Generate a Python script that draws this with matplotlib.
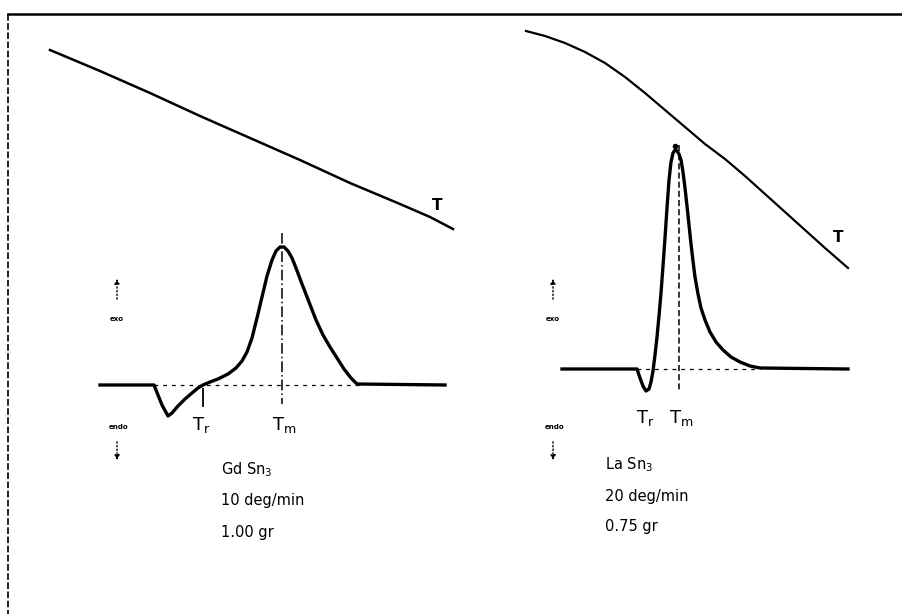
import matplotlib
matplotlib.use("Agg")
import matplotlib.pyplot as plt

# drawing units: the figure is laid out on a 902 x 614 grid (y grows downward)

# temperature trace, left run (GdSn3)
t_left_x = [50, 100, 150, 200, 250, 300, 350, 400, 430, 453]
t_left_y = [50, 71, 93, 116, 138, 160, 183, 204, 217, 229]

# temperature trace, right run (LaSn3)
t_right_x = [526, 545, 565, 585, 605, 625, 645, 665, 685, 705, 725, 745,
             765, 785, 805, 825, 848]
t_right_y = [31, 36, 43, 52, 63, 77, 93, 110, 127, 144, 159, 176,
             194, 212, 230, 248, 268]

# DTA signal, GdSn3
dta_left_x = [100, 154, 158, 162, 168, 172, 178, 185, 192, 198, 203, 210,
              218, 228, 236, 242, 247, 252, 257, 262, 267, 272, 276, 280,
              284, 288, 292, 296, 302, 309, 316, 323, 330, 337, 344, 351,
              357, 445]
dta_left_y = [385, 385, 395, 405, 416, 413, 406, 399, 393, 388, 385, 382,
              379, 374, 368, 361, 352, 338, 318, 297, 276, 260, 251, 247,
              247, 251, 258, 268, 284, 302, 320, 335, 347, 358, 369, 378,
              384, 385]

# DTA signal, LaSn3
dta_right_x = [562, 637, 640, 643, 646, 649, 651, 653, 655, 657, 659, 661,
               663, 665, 667, 669, 671, 673, 675, 677, 679, 681, 683, 685,
               687, 689, 691, 693, 695, 698, 701, 705, 710, 716, 723, 731,
               740, 750, 760, 848]
dta_right_y = [369, 369, 378, 386, 391, 389, 382, 371, 355, 337, 316, 293,
               266, 238, 208, 180, 162, 153, 150, 151, 154, 160, 172, 188,
               206, 225, 244, 261, 277, 294, 308, 320, 332, 342, 350, 357,
               362, 366, 368, 369]

# characteristic temperatures (x position) and baselines
tr_left, tm_left, base_left = 203, 282, 385
tr_right, tm_right, base_right = 647, 679, 369

sample_labels = [["Gd Sn$_\\mathregular{3}$", "10 deg/min", "1.00 gr"],
                 ["La Sn$_\\mathregular{3}$", "20 deg/min", "0.75 gr"]]

fig = plt.figure(figsize=(9.02, 6.14), dpi=100)
ax = fig.add_axes([0, 0, 1, 1])
ax.set_xlim(0, 902)
ax.set_ylim(614, 0)
ax.axis("off")

ink = "black"

# frame of the scanned page
ax.plot([8, 902], [14, 14], color=ink, lw=1.8)
ax.plot([8, 8], [14, 614], color=ink, lw=1.2, ls=(0, (4, 1.5)))

# temperature lines
ax.plot(t_left_x, t_left_y, color=ink, lw=1.8, solid_joinstyle="round")
ax.plot(t_right_x, t_right_y, color=ink, lw=1.6, solid_joinstyle="round")
ax.text(437, 205, "T", fontsize=11, fontweight="bold", ha="center", va="center")
ax.text(838, 238, "T", fontsize=11, fontweight="bold", ha="center", va="center")

# DTA curves
ax.plot(dta_left_x, dta_left_y, color=ink, lw=2.4, solid_joinstyle="round")
ax.plot(dta_right_x, dta_right_y, color=ink, lw=2.4, solid_joinstyle="round")

# dotted baselines
ax.plot([154, 360], [base_left, base_left], color=ink, lw=0.9, ls=(0, (3, 4)))
ax.plot([637, 760], [base_right, base_right], color=ink, lw=0.9, ls=(0, (3, 4)))

# Tm and Tr markers
ax.plot([tm_left, tm_left], [233, 404], color=ink, lw=1.1, ls=(0, (7, 2, 1, 2)))
ax.plot([tr_left, tr_left], [389, 406], color=ink, lw=1.3)
ax.plot([tm_right, tm_right], [145, 392], color=ink, lw=1.1, ls=(0, (4, 2)))
ax.plot([675], [146], marker="o", ms=3, color=ink)

for tr, tm, ty in [(tr_left, tm_left, 425), (tr_right, tm_right, 418)]:
    ax.text(tr - 2, ty, r"$\mathregular{T_r}$", fontsize=13, ha="center", va="center")
    ax.text(tm + 2, ty, r"$\mathregular{T_m}$", fontsize=13, ha="center", va="center")

# exo / endo arrows
for xa in [117, 553]:
    ax.annotate("", xy=(xa, 276), xytext=(xa, 302),
                arrowprops=dict(arrowstyle="-|>", lw=1.0, ls=":", color=ink,
                                mutation_scale=7))
    ax.text(xa, 319, "exo", fontsize=5, fontweight="bold", ha="center", va="center")
    ax.text(xa + 2, 427, "endo", fontsize=5, fontweight="bold", ha="center", va="center")
    ax.annotate("", xy=(xa, 463), xytext=(xa, 439),
                arrowprops=dict(arrowstyle="-|>", lw=1.0, ls=":", color=ink,
                                mutation_scale=7))

# sample descriptions
for x0, y0, lines in [(221, 470, sample_labels[0]), (605, 465, sample_labels[1])]:
    for i, s in enumerate(lines):
        ax.text(x0, y0 + 31 * i, s, fontsize=10.5, ha="left", va="center")

fig.savefig("out.png", dpi=100)
